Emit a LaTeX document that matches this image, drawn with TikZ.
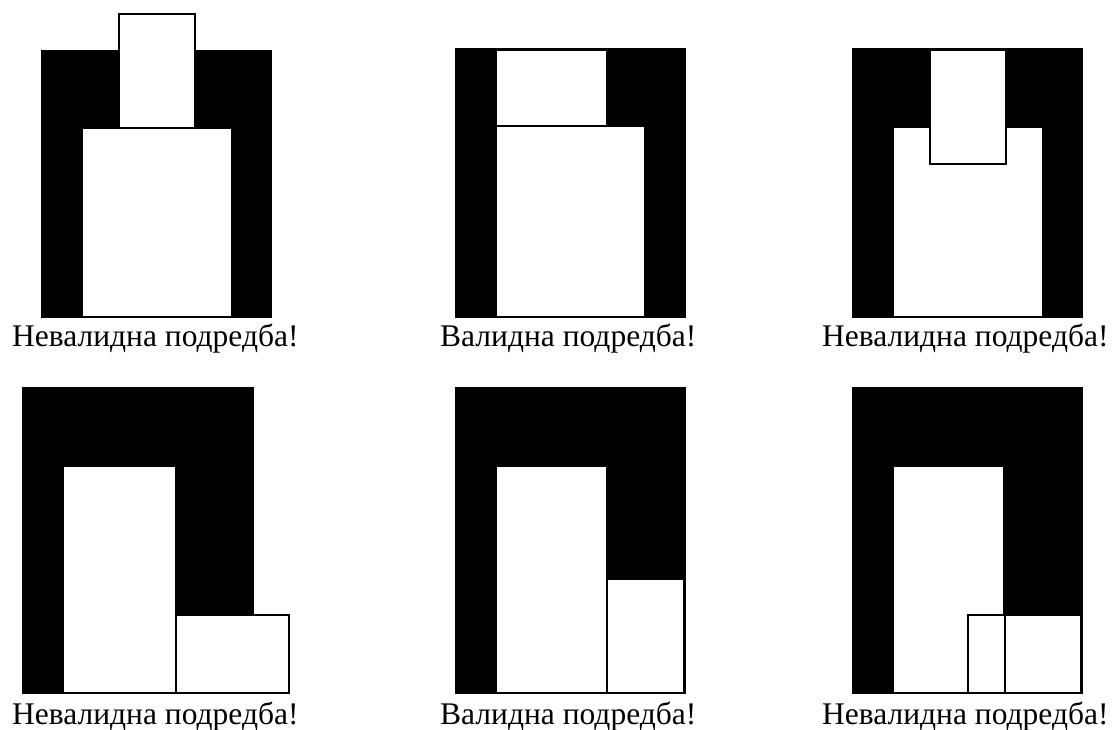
\documentclass[tikz,border=0pt]{standalone}
\usepackage{fontspec}
\setmainfont{Liberation Serif}
\tikzset{
  blk/.style={fill=black,draw=black,line width=1.5pt},
  wbox/.style={fill=white,draw=black,line width=2pt},
  lbl/.style={anchor=base west,inner sep=0pt,font=\fontsize{31.5}{36}\selectfont}
}
\begin{document}
\begin{tikzpicture}[x=1pt,y=-1pt]
\useasboundingbox (0,0) rectangle (1115,729);
% panel 1
\fill[blk] (42,51) rectangle (271,317);
\draw[wbox] (82,128) rectangle (232,317);
\draw[wbox] (119,14) rectangle (195,128);
\node[lbl] (t1) at (12,346) {Невалидна подредба!};
% panel 2
\fill[blk] (456,49) rectangle (685,317);
\draw[wbox] (496,50) rectangle (607,126);
\draw[wbox] (496,126) rectangle (645,317);
\node[lbl] (t2) at (440,346) {Валидна подредба!};
% panel 3
\fill[blk] (853,49) rectangle (1082,317);
\draw[wbox] (893,127) rectangle (1043,317);
\draw[wbox] (930,50) rectangle (1006,164);
\node[lbl] (t3) at (822,346) {Невалидна подредба!};
% panel 4
\fill[blk] (23,388) rectangle (253,693);
\draw[wbox] (63,466) rectangle (176,693);
\draw[wbox] (176,615) rectangle (289,693);
\node[lbl] (t4) at (12,724) {Невалидна подредба!};
% panel 5
\fill[blk] (456,388) rectangle (685,693);
\draw[wbox] (496,466) rectangle (607,693);
\draw[wbox] (607,579) rectangle (684,693);
\node[lbl] (t5) at (440,724) {Валидна подредба!};
% panel 6
\fill[blk] (853,388) rectangle (1082,693);
\draw[wbox] (893,466) rectangle (1004,693);
\draw[wbox] (968,615) rectangle (1005,693);
\draw[wbox] (1005,615) rectangle (1081,693);
\node[lbl] (t6) at (822,724) {Невалидна подредба!};
\end{tikzpicture}
\end{document}
